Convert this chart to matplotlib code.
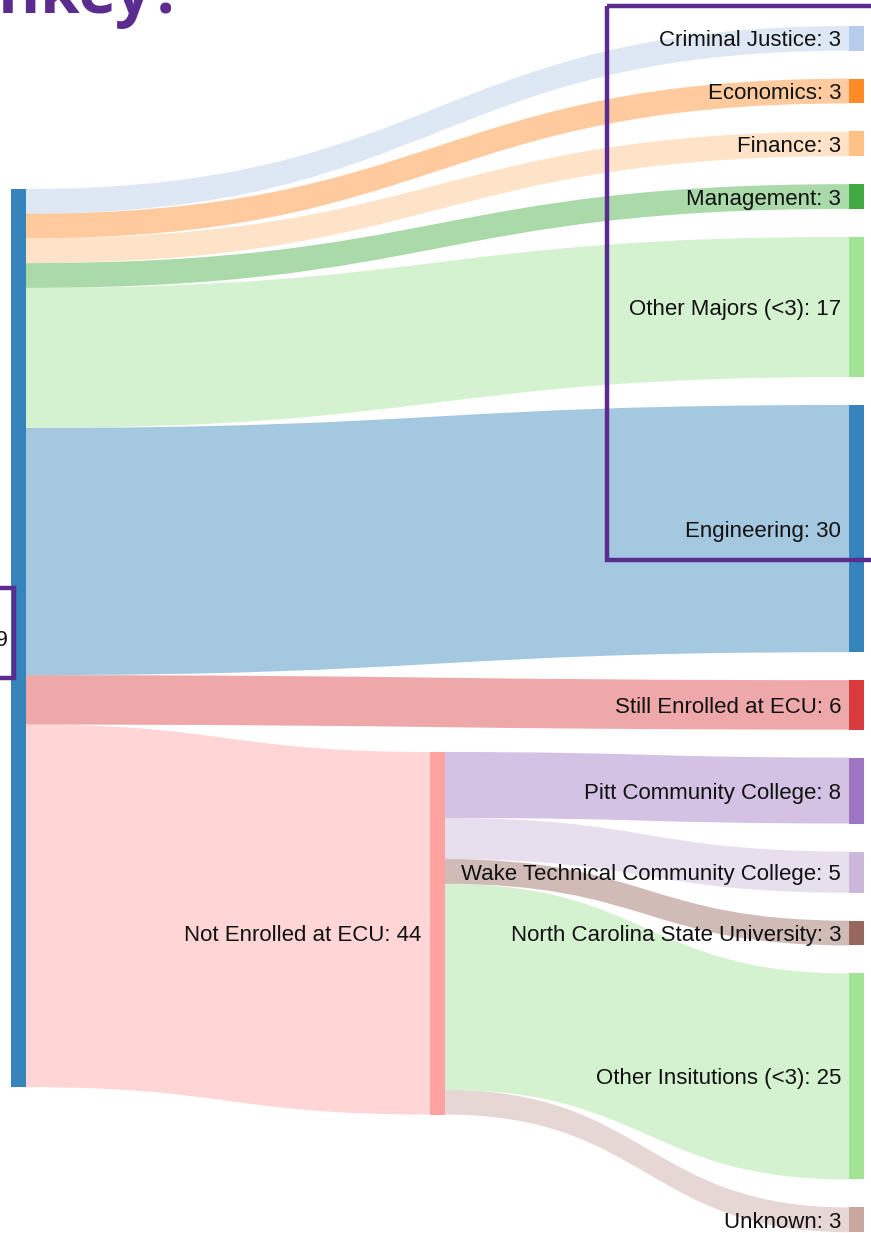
import matplotlib.pyplot as plt
from matplotlib.path import Path
from matplotlib.patches import PathPatch, Rectangle

# ---- data ----
source_label = "Cohort: 109"
source_total = 109
majors = ["Criminal Justice", "Economics", "Finance", "Management",
          "Other Majors (<3)", "Engineering"]
major_counts = [3, 3, 3, 3, 17, 30]
major_colors = ["#aec7e8", "#ff7f0e", "#ffbb78", "#2ca02c", "#98df8a", "#1f77b4"]
still_label = "Still Enrolled at ECU"
still_count = 6
still_color = "#d62728"
not_label = "Not Enrolled at ECU"
not_count = 44
not_color = "#ff9896"
institutions = ["Pitt Community College", "Wake Technical Community College",
                "North Carolina State University", "Other Insitutions (<3)", "Unknown"]
inst_counts = [8, 5, 3, 25, 3]
inst_colors = ["#9467bd", "#c5b0d5", "#8c564b", "#98df8a", "#c49c94"]
source_color = "#1f77b4"
purple = "#5b2c8f"

# ---- layout (pixels) ----
W, H = 871, 1233
k = 8.24          # px per student
gap = 28
node_w = 15
x_src, x_mid, x_right = 11, 430, 849
src_top = 189
mid_top = 752
right_top = 26

fig = plt.figure(figsize=(W / 100, H / 100), dpi=100)
ax = fig.add_axes([0, 0, 1, 1])
ax.set_xlim(0, W)
ax.set_ylim(H, 0)
ax.axis("off")
plt.rcParams['font.family'] = ['Liberation Sans', 'DejaVu Sans']


def band(xa, ya, xb, yb, h, color):
    # filled link between two cubic curves (d3-sankey style)
    xm = (xa + xb) / 2
    verts = [(xa, ya), (xm, ya), (xm, yb), (xb, yb),
             (xb, yb + h), (xm, yb + h), (xm, ya + h), (xa, ya + h), (xa, ya)]
    codes = [Path.MOVETO, Path.CURVE4, Path.CURVE4, Path.CURVE4,
             Path.LINETO, Path.CURVE4, Path.CURVE4, Path.CURVE4, Path.CLOSEPOLY]
    ax.add_patch(PathPatch(Path(verts, codes), facecolor=color, alpha=0.4,
                           edgecolor="none", zorder=1))


def node(x, y, h, color):
    ax.add_patch(Rectangle((x, y), node_w, h, facecolor=color, alpha=0.9,
                           edgecolor="none", zorder=2))


def label(x, y, txt):
    ax.text(x, y, txt, ha="right", va="center_baseline", fontsize=16,
            color="#111111", zorder=3)


# right column: majors, still enrolled, institutions
right_names = majors + [still_label] + institutions
right_counts = major_counts + [still_count] + inst_counts
right_colors = major_colors + [still_color] + inst_colors
right_y = []
y = right_top
for c in right_counts:
    right_y.append(y)
    y += c * k + gap

# source links
sy = src_top
n_src = len(majors) + 1
for i in range(n_src):
    h = right_counts[i] * k
    band(x_src + node_w, sy, x_right, right_y[i], h, right_colors[i])
    sy += h
band(x_src + node_w, sy, x_mid, mid_top, not_count * k, not_color)

# middle links
my = mid_top
for j, c in enumerate(inst_counts):
    i = n_src + j
    h = c * k
    band(x_mid + node_w, my, x_right, right_y[i], h, right_colors[i])
    my += h

# nodes
node(x_src, src_top, source_total * k, source_color)
node(x_mid, mid_top, not_count * k, not_color)
for i, c in enumerate(right_counts):
    node(x_right, right_y[i], c * k, right_colors[i])
    label(x_right - 8, right_y[i] + c * k / 2, f"{right_names[i]}: {c}")

label(x_mid - 9, mid_top + not_count * k / 2, f"{not_label}: {not_count}")
label(8, src_top + source_total * k / 2, source_label)

# highlight boxes and title fragment
ax.add_patch(Rectangle((607, 6), 320, 554, facecolor="none", edgecolor=purple,
                       lw=3.2, zorder=4, clip_on=False))
ax.add_patch(Rectangle((-100, 588), 114, 90, facecolor="none", edgecolor=purple,
                       lw=3.2, zorder=4, clip_on=False))
ax.text(183, 13, "Why Sankey?", ha="right", va="baseline", fontsize=46,
        fontweight="bold", family=["Open Sans", "DejaVu Sans"], color=purple)

fig.savefig("out.png", dpi=100)
